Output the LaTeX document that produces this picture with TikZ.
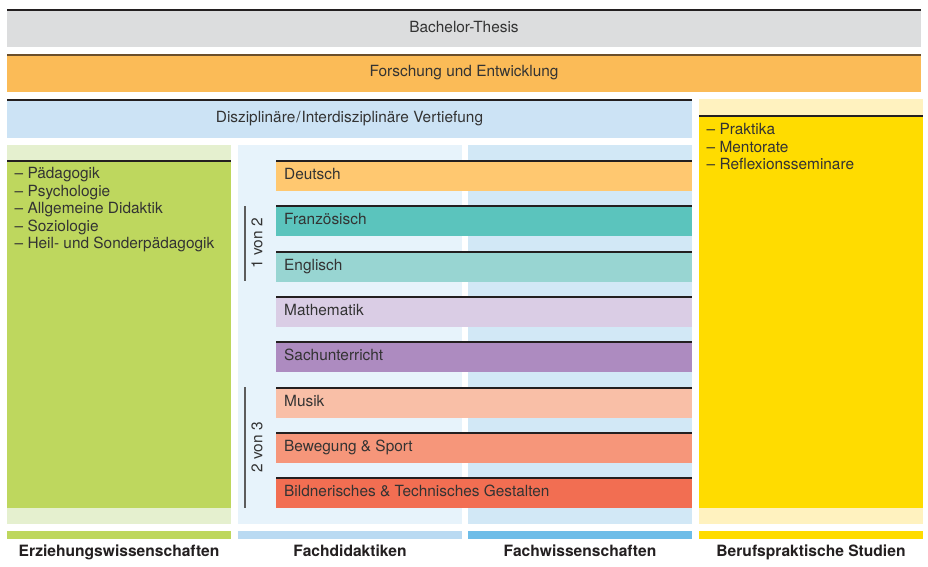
\documentclass[tikz,border=0pt]{standalone}
\usepackage{fontspec}
\setmainfont{TeX Gyre Heros}
\definecolor{txt}{HTML}{333333}
\definecolor{linec}{HTML}{231F20}
\definecolor{cBach}{HTML}{DCDDDE}
\definecolor{cFor}{HTML}{FBBB57}
\definecolor{cForL}{HTML}{6B4E2A}
\definecolor{cDis}{HTML}{CCE3F5}
\definecolor{cErzL}{HTML}{E5F0CF}
\definecolor{cErz}{HTML}{BED75E}
\definecolor{cFdL}{HTML}{E7F3FB}
\definecolor{cFdB}{HTML}{BADAF2}
\definecolor{cFwL}{HTML}{D2E8F6}
\definecolor{cFwB}{HTML}{6EBDE8}
\definecolor{cBerL}{HTML}{FFF2BF}
\definecolor{cBer}{HTML}{FFDC00}
\definecolor{sDe}{HTML}{FFC870}
\definecolor{sFr}{HTML}{5BC4BD}
\definecolor{sEn}{HTML}{98D5D2}
\definecolor{sMa}{HTML}{DACDE5}
\definecolor{sSa}{HTML}{AD8BC0}
\definecolor{sMu}{HTML}{F9BFA7}
\definecolor{sBe}{HTML}{F6967A}
\definecolor{sBi}{HTML}{F26E52}
\begin{document}
\begin{tikzpicture}[x=1pt,y=-1pt,
  lbl/.style={text=txt, font=\fontsize{15.4}{17.5}\selectfont, inner sep=0pt, anchor=base},
  lsl/.style={lbl, anchor=base west},
  blbl/.style={lbl, text=linec, font=\fontsize{15.6}{17.5}\selectfont\bfseries},
  topline/.style={draw=linec, line width=2pt},
  brace/.style={draw=txt!80, line width=1.3pt},
]
\useasboundingbox (0,0) rectangle (928,566);
\fill[white] (0,0) rectangle (928,566);

% top bars
\fill[cBach] (7,10) rectangle (921,47);
\draw[topline] (7,10) -- (921,10);
\node[lbl] (bach) at (464,32.5) {Bachelor-Thesis};

\fill[cFor] (7,55) rectangle (921,92);
\draw[draw=cForL, line width=2pt] (7,55) -- (921,55);
\node[lbl] (for) at (464,76.5) {Forschung und Entwicklung};

\fill[cDis] (7,100) rectangle (692,138);
\draw[draw=linec, line width=1.6pt] (7,100) -- (692,100);
\node[lbl] (dis) at (349.5,122.5) {Disziplinäre\kern1pt/\kern1pt Interdisziplinäre Vertiefung};

% columns
\fill[cErzL] (7,145) rectangle (231,524);
\fill[cErz] (7,160) rectangle (231,508);
\draw[topline] (7,161) -- (231,161);

\fill[cFdL] (238,145) rectangle (462,524);
\fill[cFwL] (468,145) rectangle (692,524);

\fill[cBerL] (699,99) rectangle (923,524);
\fill[cBer] (699,115) rectangle (923,508);
\draw[topline] (699,116) -- (923,116);

% bottom bars
\fill[cErz] (7,531) rectangle (231,539);
\fill[cFdB] (238,531) rectangle (462,539);
\fill[cFwB] (468,531) rectangle (692,539);
\fill[cBer] (699,531) rectangle (923,539);

% lists
\node[lsl] (e1) at (14.5,178.5) {– Pädagogik};
\node[lsl] (e2) at (14.5,196) {– Psychologie};
\node[lsl] (e3) at (14.5,213.5) {– Allgemeine Didaktik};
\node[lsl] (e4) at (14.5,231) {– Soziologie};
\node[lsl] (e5) at (14.5,248.5) {– Heil- und Sonderpädagogik};

\node[lsl] (b1) at (706.5,134.5) {– Praktika};
\node[lsl] (b2) at (706.5,152) {– Mentorate};
\node[lsl] (b3) at (706.5,169.5) {– Reflexionsseminare};

% subject bars
\foreach \t/\c/\n/\s in {160.5/sDe/de/Deutsch, 206/sFr/fr/Französisch, 251.5/sEn/en/Englisch,
  296.5/sMa/ma/Mathematik, 342/sSa/sa/Sachunterricht, 387.5/sMu/mu/Musik,
  432.5/sBe/be/Bewegung \& Sport, 478/sBi/bi/Bildnerisches \& Technisches Gestalten}{
  \fill[\c] (276,\t) rectangle (692,\t+30);
  \draw[topline] (276,\t) -- (692,\t);
  \node[lsl] (\n) at (284,\t+18.5) {\s};
}

% choice brackets
\draw[brace] (245,206) -- (245,281);
\node[lbl, anchor=center, rotate=90] (v12) at (257,243.5) {1 von 2};
\draw[brace] (245,387) -- (245,508);
\node[lbl, anchor=center, rotate=90] (v23) at (257,447.5) {2 von 3};

% column labels
\node[blbl] (l1) at (119,556.5) {Erziehungswissenschaften};
\node[blbl] (l2) at (350,556.5) {Fachdidaktiken};
\node[blbl] (l3) at (580,556.5) {Fachwissenschaften};
\node[blbl] (l4) at (811,556.5) {Berufspraktische Studien};
\end{tikzpicture}
\end{document}
